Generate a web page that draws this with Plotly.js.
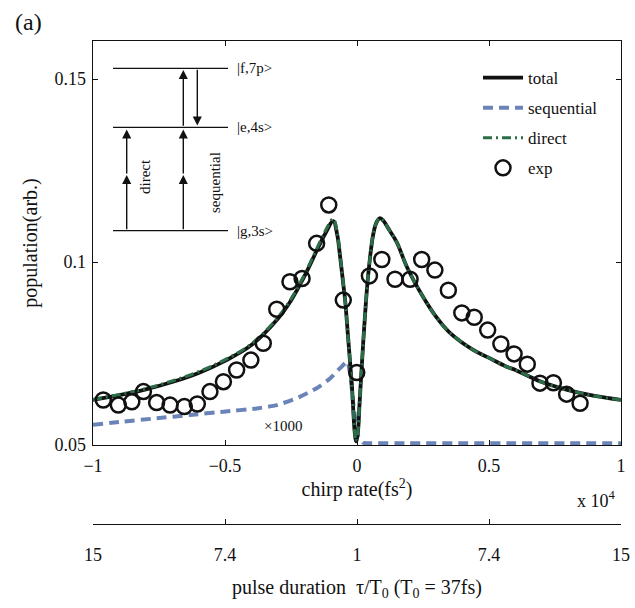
<!DOCTYPE html>
<html>
<head>
<meta charset="utf-8">
<script src="https://cdn.plot.ly/plotly-3.0.1.min.js"></script>
<style>html,body{margin:0;padding:0;background:#fff;}#chart{width:635px;height:608px;}</style>
</head>
<body>
<div id="chart"></div>
<script>
// ---- data (chirp rate in units of 1e4 fs^2) ----
const totalX = [-1, -0.9, -0.8, -0.7, -0.6, -0.5, -0.4, -0.3, -0.25, -0.2, -0.15, -0.12, -0.09, -0.075, -0.064, -0.052, -0.045, -0.033, -0.02, -0.008, -0.003, 0.004, 0.009, 0.018, 0.03, 0.043, 0.062, 0.075, 0.087, 0.1, 0.12, 0.15, 0.19, 0.25, 0.3, 0.35, 0.44, 0.5, 0.567, 0.6, 0.7, 0.8, 0.9, 1.0];
const totalY = [0.0623, 0.0636, 0.0652, 0.0672, 0.0697, 0.0730, 0.0773, 0.0845, 0.0895, 0.0960, 0.1035, 0.1078, 0.1112, 0.1075, 0.1015, 0.0940, 0.0896, 0.0787, 0.0669, 0.0530, 0.0510, 0.0540, 0.0605, 0.0714, 0.0851, 0.0969, 0.1078, 0.1110, 0.1120, 0.1113, 0.1090, 0.1055, 0.0985, 0.0905, 0.0850, 0.0808, 0.0760, 0.0738, 0.0714, 0.0705, 0.0672, 0.0650, 0.0634, 0.0623];
const directX = totalX;
const directY = [0.0624, 0.0638, 0.0654, 0.0675, 0.0700, 0.0733, 0.0776, 0.0848, 0.0899, 0.0964, 0.1040, 0.1085, 0.1118, 0.1080, 0.1018, 0.0942, 0.0897, 0.0787, 0.0669, 0.0530, 0.0510, 0.0540, 0.0605, 0.0714, 0.0851, 0.0969, 0.1078, 0.1110, 0.1120, 0.1113, 0.1090, 0.1055, 0.0985, 0.0905, 0.0850, 0.0808, 0.0760, 0.0738, 0.0714, 0.0705, 0.0672, 0.0650, 0.0634, 0.0623];
const seqX = [-1, -0.885, -0.759, -0.633, -0.506, -0.38, -0.304, -0.228, -0.153, -0.102, -0.064, -0.037, -0.025, -0.014, 0.005, 0.024, 0.05, 0.2, 0.4, 0.6, 0.8, 1.0];
const seqY = [0.0555, 0.0564, 0.0573, 0.0582, 0.0591, 0.0600, 0.0609, 0.0628, 0.0655, 0.0682, 0.0710, 0.0728, 0.0690, 0.0614, 0.0523, 0.0506, 0.0505, 0.0505, 0.0505, 0.0505, 0.0505, 0.0505];
const expX = [-0.961, -0.904, -0.853, -0.809, -0.759, -0.708, -0.654, -0.605, -0.557, -0.506, -0.456, -0.402, -0.355, -0.304, -0.254, -0.208, -0.153, -0.107, -0.052, -0.001, 0.047, 0.094, 0.144, 0.201, 0.245, 0.295, 0.346, 0.397, 0.444, 0.495, 0.545, 0.595, 0.645, 0.693, 0.744, 0.794, 0.845];
const expY = [0.0623, 0.0609, 0.0618, 0.0646, 0.0616, 0.0609, 0.0605, 0.0612, 0.0646, 0.0673, 0.0705, 0.0732, 0.0778, 0.0871, 0.0946, 0.0955, 0.1051, 0.1156, 0.0896, 0.0698, 0.0962, 0.1007, 0.0953, 0.0953, 0.1007, 0.0978, 0.0923, 0.0861, 0.0849, 0.0814, 0.0776, 0.0749, 0.0721, 0.0669, 0.0670, 0.0639, 0.0614];
const xTickVals = [-1, -0.5, 0, 0.5, 1];
const xTickText = ['\u22121', '\u22120.5', '0', '0.5', '1'];
const durTickText = ['15', '7.4', '1', '7.4', '15'];
const yTickVals = [0.05, 0.1, 0.15];
const yTickText = ['0.05', '0.1', '0.15'];
const seriesNames = ['total', 'sequential', 'direct', 'exp'];

const FONT = 'Liberation Serif, Times New Roman, serif';
const BLUE = '#6b84b8';
const GREEN = '#2c6e48';

const traces = [
  {x: seqX, y: seqY, name: seriesNames[1], mode: 'lines', legendrank: 2, legendgroup: 'b',
   line: {color: BLUE, width: 4, dash: '10px,6px', shape: 'spline', smoothing: 0.5}},
  {x: totalX, y: totalY, name: seriesNames[0], mode: 'lines', legendrank: 1, legendgroup: 'a',
   line: {color: '#111', width: 3.8, shape: 'spline', smoothing: 1}},
  {x: directX, y: directY, name: seriesNames[2], mode: 'lines', legendrank: 3, legendgroup: 'c',
   line: {color: GREEN, width: 3.2, dash: '9px,4px,2px,4px', shape: 'spline', smoothing: 1}},
  {x: expX, y: expY, name: seriesNames[3], mode: 'markers', legendrank: 4, legendgroup: 'd',
   marker: {symbol: 'circle-open', size: 15, color: '#111', line: {width: 2.5, color: '#111'}}},
  {x: xTickVals, y: xTickVals.map(() => 0.05), xaxis: 'x2', yaxis: 'y', mode: 'markers',
   marker: {opacity: 0}, showlegend: false, hoverinfo: 'skip'}
];

// inset level diagram helpers (paper coords)
const pxX = px => (px - 93) / 528;
const pxY = py => (524 - py) / 483;
const lvlF = 68.3, lvlE = 127.3, lvlG = 230.7;
const shapes = [lvlF, lvlE, lvlG].map(py => ({
  type: 'line', xref: 'paper', yref: 'paper', x0: pxX(113), x1: pxX(228), y0: pxY(py), y1: pxY(py),
  line: {color: '#111', width: 1.3}
}));

function arrow(px, headY, tailY) {
  return {xref: 'paper', yref: 'paper', x: pxX(px), y: pxY(headY), ax: 0, ay: tailY - headY,
    axref: 'pixel', ayref: 'pixel', text: '', showarrow: true, arrowhead: 2, arrowsize: 1.3,
    arrowwidth: 1.4, arrowcolor: '#111', standoff: 0, startstandoff: 0};
}
const txt = (text, x, y, size, extra) => Object.assign({xref: 'paper', yref: 'paper', x: x, y: y,
  text: text, showarrow: false, font: {family: FONT, size: size, color: '#111'}}, extra || {});

const annotations = [
  arrow(126.7, 175, lvlG), arrow(126.7, 129.5, 175),
  arrow(183.3, 175, lvlG), arrow(183.3, 129.5, 175), arrow(183.3, 70, lvlE),
  arrow(197.3, 125.5, lvlF),
  txt('|f,7p&gt;', pxX(235), pxY(lvlF), 15, {xanchor: 'left', yanchor: 'middle'}),
  txt('|e,4s&gt;', pxX(235), pxY(lvlE), 15, {xanchor: 'left', yanchor: 'middle'}),
  txt('|g,3s&gt;', pxX(235), pxY(lvlG), 15, {xanchor: 'left', yanchor: 'middle'}),
  txt('direct', pxX(145), pxY(177), 15, {textangle: -90, xanchor: 'center', yanchor: 'middle'}),
  txt('sequential', pxX(215), pxY(183), 15, {textangle: -90, xanchor: 'center', yanchor: 'middle'}),
  txt('\u00d71000', pxX(283), pxY(426), 15, {xanchor: 'center', yanchor: 'middle'}),
  txt('x 10<sup>4</sup>', pxX(618), pxY(499), 18, {xanchor: 'right', yanchor: 'middle'}),
  txt('(a)', pxX(28), pxY(22), 24, {xanchor: 'center', yanchor: 'middle'})
];

const layout = {
  width: 635, height: 608,
  margin: {l: 93, r: 14, t: 41, b: 84},
  paper_bgcolor: '#fff', plot_bgcolor: '#fff',
  font: {family: FONT, size: 18, color: '#111'},
  showlegend: true,
  legend: {x: pxX(478), y: pxY(60), xanchor: 'left', yanchor: 'top', bgcolor: 'rgba(0,0,0,0)',
    font: {family: FONT, size: 17, color: '#111'}, tracegroupgap: 5, itemwidth: 40},
  xaxis: {range: [-1, 1], tickvals: xTickVals, ticktext: xTickText, ticks: 'inside', ticklen: 5,
    tickcolor: '#111', showline: true, linecolor: '#111', linewidth: 1.3, mirror: 'ticks',
    showgrid: false, zeroline: false, anchor: 'y', ticklabelstandoff: 4,
    tickfont: {family: FONT, size: 18, color: '#111'},
    title: {text: 'chirp rate(fs<sup>2</sup>)', font: {family: FONT, size: 20, color: '#111'}, standoff: 6}},
  xaxis2: {range: [-1, 1], overlaying: 'x', anchor: 'free', position: 0, side: 'bottom',
    tickvals: xTickVals, ticktext: durTickText, ticks: 'inside', ticklen: 5, tickcolor: '#111',
    showline: true, linecolor: '#111', linewidth: 1.3, showgrid: false, zeroline: false,
    ticklabelstandoff: 14, tickfont: {family: FONT, size: 18, color: '#111'},
    title: {text: 'pulse duration  \u03c4/T<sub>0</sub> (T<sub>0</sub> = 37fs)', font: {family: FONT, size: 20, color: '#111'}, standoff: 16}},
  yaxis: {range: [0.05, 0.1604], domain: [(524 - 445) / 483, 1], tickvals: yTickVals, ticktext: yTickText,
    ticks: 'inside', ticklen: 5, tickcolor: '#111', showline: true, linecolor: '#111', linewidth: 1.3,
    mirror: 'ticks', showgrid: false, zeroline: false, ticklabelstandoff: 2,
    tickfont: {family: FONT, size: 18, color: '#111'},
    title: {text: 'population(arb.)', font: {family: FONT, size: 20, color: '#111'}, standoff: 11}},
  shapes: shapes,
  annotations: annotations
};

Plotly.newPlot('chart', traces, layout, {staticPlot: true, displayModeBar: false});
</script>
</body>
</html>
